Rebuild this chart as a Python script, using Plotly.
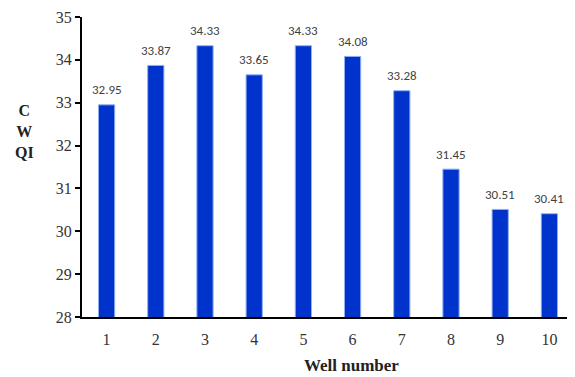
import plotly.graph_objects as go

wells = ["1", "2", "3", "4", "5", "6", "7", "8", "9", "10"]
cwqi = [32.95, 33.87, 34.33, 33.65, 34.33, 34.08, 33.28, 31.45, 30.51, 30.41]
y_ticks = [28, 29, 30, 31, 32, 33, 34, 35]

fig = go.Figure(go.Bar(
    x=wells, y=cwqi,
    width=0.33,
    marker=dict(color="#0033CC", line=dict(color="#8FB0F0", width=1)),
))

# value labels placed above each bar through the data axes (category index)
for i, v in enumerate(cwqi):
    fig.add_annotation(
        x=i, y=v, text=f"{v:.2f}", showarrow=False,
        xanchor="center", yanchor="middle", yshift=15,
        font=dict(family="Carlito, Liberation Sans, sans-serif", size=13, color="#404040"),
    )

# page body has an 8px default margin, so the figure is sized to fit the window
fig.update_layout(
    width=567, height=369,
    margin=dict(l=74, r=1, t=9, b=60, autoexpand=False),
    paper_bgcolor="white", plot_bgcolor="white",
    showlegend=False,
    font=dict(family="Liberation Serif, Times New Roman, serif", size=16, color="#333"),
)
fig.update_xaxes(
    type="category", range=[-0.5, len(wells) - 0.5],
    showline=True, linecolor="black", linewidth=2,
    ticks="outside", ticklen=7, tickcolor="rgba(0,0,0,0)", showgrid=False,
    tickfont=dict(size=16), automargin=False,
)
fig.update_yaxes(
    range=[28, 35], tickvals=y_ticks,
    showline=True, linecolor="black", linewidth=2,
    ticks="outside", ticklen=5, tickwidth=2, tickcolor="black",
    showgrid=False, zeroline=False,
    tickfont=dict(size=16), automargin=False,
)
fig.add_annotation(
    text="<b>C<br>W<br>QI</b>", xref="paper", yref="paper",
    x=-0.116, y=0.62, xanchor="center", yanchor="middle",
    showarrow=False, align="center",
    font=dict(family="Liberation Serif, serif", size=16, color="#222"),
)
fig.add_annotation(
    text="<b>Well number</b>", xref="paper", yref="paper",
    x=0.548, y=-0.163, xanchor="center", yanchor="middle",
    showarrow=False,
    font=dict(family="Liberation Serif, serif", size=17, color="#222"),
)
fig.write_html("out.html")
